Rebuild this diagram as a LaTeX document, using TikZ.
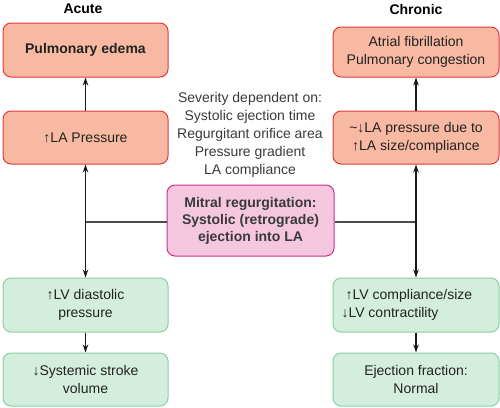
\documentclass[tikz,border=0pt]{standalone}
\usepackage{fontspec}
\setmainfont{Liberation Sans}
\usetikzlibrary{arrows.meta}
\definecolor{redfill}{HTML}{F8B9A3}
\definecolor{redline}{HTML}{E0383C}
\definecolor{greenfill}{HTML}{D4EEDD}
\definecolor{greenline}{HTML}{8ACFA4}
\definecolor{pinkfill}{HTML}{F4C7DF}
\definecolor{pinkline}{HTML}{CF2E8E}
\definecolor{txt}{HTML}{222222}
\definecolor{midtxt}{HTML}{3A3A3A}
\begin{document}
\begin{tikzpicture}[x=1pt,y=-1pt,
  box/.style={rounded corners=8pt, line width=1pt, align=center,
    font=\fontsize{14}{18}\selectfont, text=txt, inner sep=0pt},
  redbox/.style={box, draw=redline, fill=redfill},
  greenbox/.style={box, draw=greenline, fill=greenfill},
  pinkbox/.style={box, draw=pinkline, fill=pinkfill, text=midtxt,
    font=\fontsize{14}{17}\selectfont\bfseries},
  title/.style={font=\fontsize{14}{17}\selectfont\bfseries, text=black},
  arr/.style={-{Stealth[length=8pt,width=5.5pt]}, line width=1.5pt, black!90},
  link/.style={line width=1.6pt, black!70}
]
\useasboundingbox (0,0) rectangle (500,407);

\node[title] (tacute) at (83,9) {Acute};
\node[title] (tchronic) at (416,9) {Chronic};

% left column
\node[redbox, minimum width=165pt, minimum height=54pt] (edema) at (85.5,50)
  {\textbf{Pulmonary edema}};
\node[redbox, minimum width=165pt, minimum height=53pt] (lapl) at (85.5,137.5)
  {↑LA Pressure};
\node[greenbox, minimum width=165pt, minimum height=54pt] (lvd) at (85.5,305)
  {↑LV diastolic\\pressure};
\node[greenbox, minimum width=165pt, minimum height=53pt] (sv) at (85.5,379.5)
  {↓Systemic stroke\\volume};

% right column
\node[redbox, minimum width=166pt, minimum height=50pt] (af) at (416,52)
  {Atrial fibrillation\\Pulmonary congestion};
\node[redbox, minimum width=166pt, minimum height=53pt] (lapr) at (416,137.5)
  {\textasciitilde↓LA pressure due to\\↑LA size/compliance};
\node[greenbox, minimum width=166pt, minimum height=54pt] (lvc) at (416,305)
  {↑LV compliance/size\hspace*{14pt}\\↓LV contractility\hspace*{52pt}};
\node[greenbox, minimum width=166pt, minimum height=53pt] (ef) at (416,379.5)
  {Ejection fraction:\\Normal};

% center
\node[align=center, font=\fontsize{14}{18}\selectfont, text=midtxt] (sev) at (250,134.5)
  {Severity dependent on:\\Systolic ejection time\\Regurgitant orifice area\\Pressure gradient\\LA compliance};
\node[pinkbox, minimum width=167pt, minimum height=71pt] (mr) at (250.5,220.5)
  {Mitral regurgitation:\\Systolic (retrograde)\\ejection into LA};

\coordinate (jl) at (85.5,222);
\coordinate (jr) at (416,222);

\draw[link] (mr.west |- jl) -- (jl);
\draw[link] (mr.east |- jr) -- (jr);
\draw[arr] (jl) -- (lapl.south);
\draw[arr] (jl) -- (lvd.north);
\draw[arr] (jr) -- (lapr.south);
\draw[arr] (jr) -- (lvc.north);
\draw[arr] (lapl.north) -- (edema.south);
\draw[arr] (lapr.north) -- (af.south);
\draw[arr] (lvd.south) -- (sv.north);
\draw[arr] (lvc.south) -- (ef.north);
\end{tikzpicture}
\end{document}
